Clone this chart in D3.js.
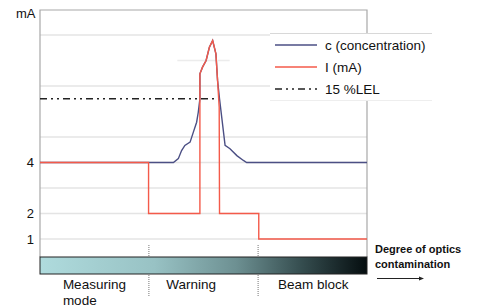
<!DOCTYPE html>
<html>
<head>
<meta charset="utf-8">
<script src="https://cdn.jsdelivr.net/npm/d3@7"></script>
<style>
  body { margin: 0; background: #fff; }
  svg { display: block; font-family: "Liberation Sans", Arial, sans-serif; }
</style>
</head>
<body>
<div id="chart"></div>
<script>
// data: x = degree of optics contamination (0-100), y = mA
var concX = [0, 40.8, 42.3, 43.3, 44.3, 45.9, 46.9, 47.9, 48.4, 48.9, 48.9, 49.7, 50.8, 51.8, 52.8, 53.8, 54.3, 54.9, 56.6, 58.1, 60.2, 62.2, 63.2, 100];
var concY = [4, 4, 4.15, 4.47, 4.67, 4.8, 5.19, 5.58, 5.97, 6.5, 7.48, 7.74, 8.0, 8.52, 8.78, 8.26, 7.22, 6.5, 4.67, 4.54, 4.27, 4.08, 4, 4];

var currX = [0, 33.2, 33.2, 48.9, 48.9, 49.7, 50.8, 51.8, 52.8, 53.8, 54.3, 54.8, 54.9, 66.9, 66.9, 100];
var currY = [4, 4, 2, 2, 7.48, 7.74, 8.0, 8.52, 8.78, 8.26, 7.22, 6.17, 2, 2, 1, 1];

var lelValue = 6.5;
var lelRange = [0, 55];

var gridValues = [1, 2, 3, 4, 5, 7, 9];
var tickValues = [1, 2, 4];
var phaseBreaks = [33.3, 66.7];
var phaseLabels = [["Measuring", "mode"], ["Warning"], ["Beam block"]];
var phaseStarts = [7, 38.6, 72.8];
var legendLabels = ["c (concentration)", "I (mA)", "15 %LEL"];

var blue = "#4b4f84", red = "#f45a4a";
var dashDot = "7,4,2,4,2,4";

var svg = d3.select("#chart").append("svg")
    .attr("width", 482)
    .attr("height", 308);

var x = d3.scaleLinear().domain([0, 100]).range([40, 367]);
var y = d3.scaleLinear().domain([0, 10]).range([264.5, 9.5]);

// grid
svg.append("g").selectAll("line").data(gridValues).enter().append("line")
    .attr("x1", 40).attr("x2", 367)
    .attr("y1", function (d) { return y(d); })
    .attr("y2", function (d) { return y(d); })
    .attr("stroke", "#e4e4e4").attr("stroke-width", 1.5);
// faint partial line at 8
svg.append("line")
    .attr("x1", x(42)).attr("x2", x(58))
    .attr("y1", y(8)).attr("y2", y(8))
    .attr("stroke", "#ececec").attr("stroke-width", 1.5);

// frame
svg.append("path")
    .attr("d", "M40,257V10H367V257")
    .attr("fill", "none").attr("stroke", "#a8a8a8").attr("stroke-width", 1.2);

// y axis labels
var yAxis = d3.axisLeft(y).tickValues(tickValues).tickSize(0).tickPadding(6)
    .tickFormat(d3.format("d"));
var ga = svg.append("g").attr("transform", "translate(40,0)").call(yAxis);
ga.select(".domain").remove();
ga.selectAll("text").attr("font-size", 13).attr("fill", "#111")
    .attr("font-family", "Liberation Sans, Arial, sans-serif");

svg.append("text").attr("x", 16).attr("y", 18)
    .attr("font-size", 13).attr("fill", "#111").text("mA");

// LEL line
svg.append("line")
    .attr("x1", x(lelRange[0])).attr("x2", x(lelRange[1]))
    .attr("y1", y(lelValue)).attr("y2", y(lelValue))
    .attr("stroke", "#222").attr("stroke-width", 1.3)
    .attr("stroke-dasharray", dashDot);

var line = d3.line()
    .x(function (d) { return x(d[0]); })
    .y(function (d) { return y(d[1]); });

svg.append("path")
    .datum(d3.zip(concX, concY))
    .attr("d", line)
    .attr("fill", "none").attr("stroke", blue).attr("stroke-width", 1.4);

svg.append("path")
    .datum(d3.zip(currX, currY))
    .attr("d", line)
    .attr("fill", "none").attr("stroke", red).attr("stroke-width", 1.4);

// legend
var lg = svg.append("g");
lg.append("rect").attr("x", 270).attr("y", 33).attr("width", 162).attr("height", 67)
    .attr("fill", "#fff");
lg.append("line").attr("x1", 270).attr("x2", 432).attr("y1", 33.5).attr("y2", 33.5)
    .attr("stroke", "#d8d8d8");
lg.append("line").attr("x1", 270).attr("x2", 432).attr("y1", 100.5).attr("y2", 100.5)
    .attr("stroke", "#eeeeee");
var rows = [45, 67, 89];
var lstroke = [blue, red, "#222"];
legendLabels.forEach(function (t, i) {
    lg.append("line").attr("x1", 275).attr("x2", 317)
        .attr("y1", rows[i]).attr("y2", rows[i])
        .attr("stroke", lstroke[i]).attr("stroke-width", 1.3)
        .attr("stroke-dasharray", i === 2 ? dashDot : null);
    lg.append("text").attr("x", 325).attr("y", rows[i] + 4.5)
        .attr("font-size", 13.5).attr("fill", "#111").text(t);
});

// gradient bar
var grad = svg.append("defs").append("linearGradient").attr("id", "bar");
[[0, "#afdbdd"], [0.35, "#98c2c4"], [0.6, "#6d9092"], [0.8, "#354d4f"], [1, "#050d0f"]]
    .forEach(function (s) {
        grad.append("stop").attr("offset", s[0]).attr("stop-color", s[1]);
    });
svg.append("rect").attr("x", 40).attr("y", 257).attr("width", 327).attr("height", 17)
    .attr("fill", "url(#bar)").attr("stroke", "#222").attr("stroke-width", 1);

// phase separators
phaseBreaks.forEach(function (b) {
    [[245, 257], [275, 297]].forEach(function (r) {
        svg.append("line").attr("x1", x(b)).attr("x2", x(b))
            .attr("y1", r[0]).attr("y2", r[1])
            .attr("stroke", "#777").attr("stroke-dasharray", "1,1");
    });
});

// phase labels
phaseLabels.forEach(function (lines, i) {
    var t = svg.append("text").attr("x", x(phaseStarts[i])).attr("y", 289)
        .attr("font-size", 13.5).attr("fill", "#111");
    lines.forEach(function (l, j) {
        t.append("tspan").attr("x", x(phaseStarts[i])).attr("dy", j ? 16 : 0).text(l);
    });
});

// x description
var xd = svg.append("text").attr("x", 375).attr("y", 253)
    .attr("font-size", 11).attr("font-weight", "bold").attr("fill", "#111");
xd.append("tspan").attr("x", 375).text("Degree of optics");
xd.append("tspan").attr("x", 375).attr("dy", 15).text("contamination");
svg.append("line").attr("x1", 377).attr("x2", 420).attr("y1", 278.5).attr("y2", 278.5)
    .attr("stroke", "#222").attr("stroke-width", 1);
svg.append("path").attr("d", "M424,278.5l-5,-2v4z").attr("fill", "#222");
</script>
</body>
</html>
